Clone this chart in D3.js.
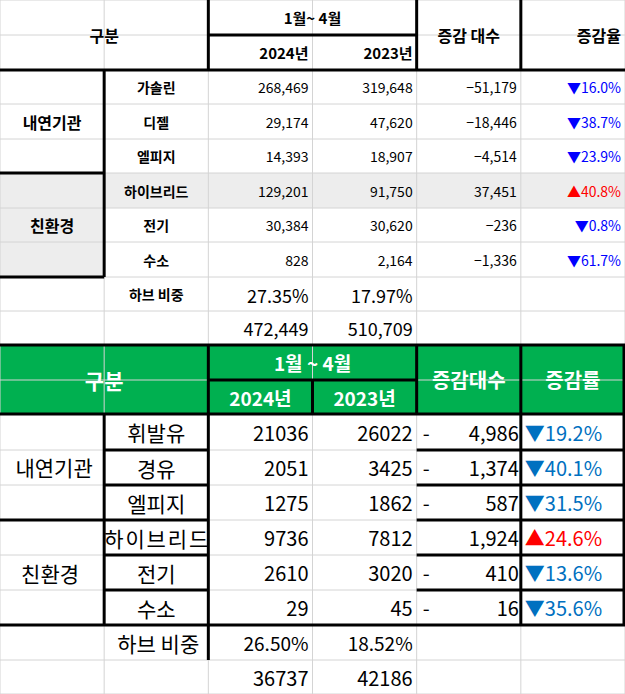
<!DOCTYPE html><html><head><meta charset="utf-8">
<script src="https://cdn.jsdelivr.net/npm/d3@7"></script>
<style>body{margin:0;background:#fff}</style></head><body>
<script>
const groups1 = ["내연기관","친환경"];
const fuels1 = ["가솔린","디젤","엘피지","하이브리드","전기","수소"];
const v2024a = [268469,29174,14393,129201,30384,828];
const v2023a = [319648,47620,18907,91750,30620,2164];
const diffA = [-51179,-18446,-4514,37451,-236,-1336];
const rateA = ["16.0%","38.7%","23.9%","40.8%","0.8%","61.7%"];
const shareA = ["27.35%","17.97%"];
const totalA = [472449,510709];

const fuels2 = ["휘발유","경유","엘피지","하이브리드","전기","수소"];
const v2024b = [21036,2051,1275,9736,2610,29];
const v2023b = [26022,3425,1862,7812,3020,45];
const diffB = [-4986,-1374,-587,1924,-410,-16];
const rateB = ["19.2%","40.1%","31.5%","24.6%","13.6%","35.6%"];
const shareB = ["26.50%","18.52%"];
const totalB = [36737,42186];

const W=625,H=694;
const svg=d3.select("body").append("svg").attr("width",W).attr("height",H)
 .style("font-family","'Noto Sans CJK KR','Noto Sans',sans-serif");
const X=d3.scaleLinear().domain([0,6]).range([0,625]);
const c=i=>X(i);
const F=d3.format(",");
const yA=[0,35,70,104,139,173,208,242,277,311,345];
const yB=[345,380,414,450,485,520,555,590,625,660,694];

function rect(x0,y0,x1,y1,fill){svg.append("rect").attr("x",x0).attr("y",y0).attr("width",x1-x0).attr("height",y1-y0).attr("fill",fill);}
function line(x0,y0,x1,y1,w,col){svg.append("line").attr("x1",x0).attr("y1",y0).attr("x2",x1).attr("y2",y1).attr("stroke",col||"#000").attr("stroke-width",w);}
function text(s,x,y,opt={}){const t=svg.append("text").attr("x",x).attr("y",y).attr("dominant-baseline","central")
 .attr("text-anchor",opt.a||"middle").attr("font-size",opt.s||15).attr("font-weight",opt.b?"bold":"normal").attr("fill",opt.f||"#000").text(s);return t;}

// backgrounds
rect(c(0),yA[5],c(1),yA[8],"#ededed");
rect(c(1),yA[5],c(6),yA[6],"#ededed");
rect(0,yB[0],W,yB[2],"#00b050");
// light grid
const g="#d4d4d4";
for(let i=0;i<=6;i++){line(c(i),0,c(i),H,1,g);}
for(const y of yA.concat(yB)) line(0,y,W,y,1,g);

// TOP table thick lines
line(c(2),0,c(2),yA[2],3);line(c(4),0,c(4),yA[2],3);line(c(5),0,c(5),yA[2],3);
line(c(2),yA[1],c(4),yA[1],3);line(0,yA[2],W,yA[2],3);
line(c(1),yA[2],c(1),yA[8],3);line(0,yA[5],c(1),yA[5],3);line(0,yA[8],c(1),yA[8],3);
line(0,yB[0],W,yB[0],3);

// TOP texts
text("구분",c(1),yA[1],{b:1,s:16});
text("1월~ 4월",c(3),(yA[0]+yA[1])/2,{b:1,s:15});
text("2024년",c(3)-4,(yA[1]+yA[2])/2,{b:1,a:"end"});
text("2023년",c(4)-4,(yA[1]+yA[2])/2,{b:1,a:"end"});
text("증감 대수",c(4.5),yA[1],{b:1,s:16});
text("증감율",c(6)-4,yA[1],{b:1,s:16,a:"end"});
text(groups1[0],c(0.5),(yA[2]+yA[5])/2,{b:1,s:16});
text(groups1[1],c(0.5),(yA[5]+yA[8])/2,{b:1,s:16});
fuels1.forEach((f,i)=>{const ym=(yA[i+2]+yA[i+3])/2;
 text(f,c(1.5),ym,{b:1,s:14});
 text(F(v2024a[i]),c(3)-4,ym,{a:"end",s:14});
 text(F(v2023a[i]),c(4)-4,ym,{a:"end",s:14});
 text(F(diffA[i]),c(5)-4,ym,{a:"end",s:14});
 const up=diffA[i]>0;
 text((up?"▲":"▼")+rateA[i],c(6)-4,ym,{a:"end",s:14,f:up?"#ff0000":"#0000ff"});
});
{const ym=(yA[8]+yA[9])/2;text("하브 비중",c(1.5),ym,{b:1,s:14});
 text(shareA[0],c(3)-4,ym+1,{a:"end",s:18});text(shareA[1],c(4)-4,ym+1,{a:"end",s:18});
 const ym2=(yA[9]+yA[10])/2;text(F(totalA[0]),c(3)-4,ym2,{a:"end",s:18});text(F(totalA[1]),c(4)-4,ym2,{a:"end",s:18});}

// BOTTOM thick lines
line(c(2),yB[0],c(2),yB[9],3);line(c(4),yB[0],c(4),yB[2],3);line(c(5),yB[0],c(5),yB[8],3);
line(c(3),yB[1],c(3),yB[2],3);line(c(2),yB[1],c(4),yB[1],3);line(0,yB[2],W,yB[2],3);
line(c(1),yB[2],c(1),yB[8],3);line(0,yB[5],c(1),yB[5],3);line(0,yB[8],W,yB[8],3);
line(c(6)-1,yB[0],c(6)-1,yB[8],3);
for(let k=3;k<=7;k++){line(c(1),yB[k],c(2),yB[k],3);line(c(4),yB[k],c(6),yB[k],3);}

// BOTTOM texts
const wf="#fff";
text("구분",c(1),(yB[0]+yB[2])/2,{b:1,s:21,f:wf});
text("1월 ~ 4월",c(3),(yB[0]+yB[1])/2,{b:1,s:19,f:wf});
text("2024년",c(2.5),(yB[1]+yB[2])/2,{b:1,s:19,f:wf});
text("2023년",c(3.5),(yB[1]+yB[2])/2,{b:1,s:19,f:wf});
text("증감대수",c(4.5),(yB[0]+yB[2])/2,{b:1,s:20,f:wf});
text("증감률",c(5.5),(yB[0]+yB[2])/2,{b:1,s:20,f:wf});
text(groups1[0],c(0.5)+2,(yB[2]+yB[5])/2,{s:21});
text(groups1[1],c(0.5)-2,(yB[5]+yB[8])/2,{s:21});
fuels2.forEach((f,i)=>{const ym=(yB[i+2]+yB[i+3])/2;
 text(f,c(1.5),ym,{s:21}).attr("textLength",f.length>4?104:null);
 text(v2024b[i],c(3)-4,ym,{a:"end",s:20});
 text(v2023b[i],c(4)-4,ym,{a:"end",s:20});
 if(diffB[i]<0) text("-",c(4)+6,ym,{a:"start",s:20});
 text(F(Math.abs(diffB[i])),c(5)-2,ym,{a:"end",s:20});
 const up=diffB[i]>0;
 text((up?"▲":"▼")+rateB[i],c(5)+4,ym,{a:"start",s:20,f:up?"#ff0000":"#0070c0"});
});
{const ym=(yB[8]+yB[9])/2;text("하브 비중",c(1.5)+2,ym,{s:21});
 text(shareB[0],c(3)-4,ym,{a:"end",s:19});text(shareB[1],c(4)-4,ym,{a:"end",s:19});
 const ym2=(yB[9]+yB[10])/2;text(totalB[0],c(3)-4,ym2,{a:"end",s:20});text(totalB[1],c(4)-4,ym2,{a:"end",s:20});}
</script></body></html>
